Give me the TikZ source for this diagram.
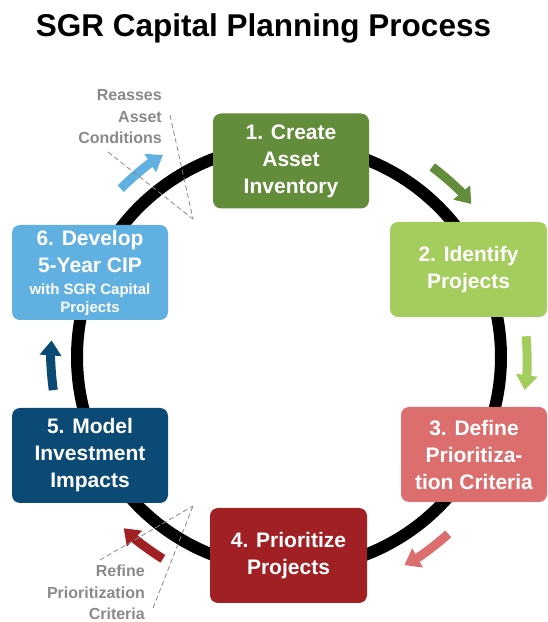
\documentclass[tikz,border=0pt]{standalone}
\usepackage{fontspec}
\setmainfont{Liberation Sans}
\usetikzlibrary{arrows.meta}
\definecolor{cOne}{HTML}{638C3B}
\definecolor{cTwo}{HTML}{A4CD5E}
\definecolor{cThree}{HTML}{DC6E6E}
\definecolor{cFour}{HTML}{A02023}
\definecolor{cFive}{HTML}{0C4A76}
\definecolor{cSix}{HTML}{60B0E2}
\definecolor{gGray}{HTML}{898989}
\begin{document}
\begin{tikzpicture}[x=1pt,y=1pt,
  box/.style={rounded corners=8pt, minimum height=95pt, inner sep=0pt, align=center, text=white, font=\bfseries\fontsize{21}{27}\selectfont},
  ring/.style={line width=12pt, black},
  flow/.style={line width=9pt, -{Triangle[length=15pt,width=21pt]}},
  guide/.style={draw=gGray, line width=0.8pt, dash pattern=on 5pt off 3pt},
  note/.style={text=gGray, font=\bfseries\fontsize{16}{21.5}\selectfont, align=right, inner sep=0pt, anchor=north east}]
\useasboundingbox (0,0) rectangle (547,622);
\node[font=\bfseries\fontsize{31.5}{36}\selectfont, anchor=base, inner sep=0pt] (title) at (263.5,585) {SGR Capital Planning Process};
\coordinate (C) at (289,265);
\draw[ring] (C) circle[radius=212];
% flow arrows
\draw[flow, cSix]   ([shift={(135:238)}]C) arc[start angle=135, end angle=122, radius=238];
\draw[flow, cOne]   ([shift={(53:238)}]C) arc[start angle=53, end angle=40, radius=238];
\draw[flow, cTwo]   ([shift={(5:238)}]C) arc[start angle=5, end angle=-8, radius=238];
\draw[flow, cThree] ([shift={(-48:238)}]C) arc[start angle=-48, end angle=-61, radius=238];
\draw[flow, cFour]  ([shift={(238:238)}]C) arc[start angle=238, end angle=226, radius=238];
\draw[flow, cFive]  ([shift={(188:238)}]C) arc[start angle=188, end angle=176, radius=238];
% boxes
\node[box, fill=cOne, minimum width=156pt] (s1) at (291,461) {1. Create\\Asset\\Inventory};
\node[box, fill=cTwo, minimum width=157pt] (s2) at (468.5,352.5) {2. Identify\\Projects};
\node[box, fill=cThree, minimum width=146pt] (s3) at (474,167.5) {3. Define\\Prioritiza-\\tion Criteria};
\node[box, fill=cFour, minimum width=157pt] (s4) at (288.5,66.5) {4. Prioritize\\Projects};
\node[box, fill=cFive, minimum width=156pt] (s5) at (90,166.5) {5. Model\\Investment\\Impacts};
\node[box, fill=cSix, minimum width=156pt] (s6) at (90,349.5) {6. Develop\\5-Year CIP\\[-5pt]\fontsize{15}{17}\selectfont with SGR Capital\\[-9pt]\fontsize{15}{17}\selectfont Projects};
% annotations
\node[note] (reassess) at (162,532.5) {Reasses\\Asset\\Conditions};
\node[note] (refine) at (145,57) {Refine\\Prioritization\\Criteria};
\coordinate (ra) at (170,507);
\coordinate (rb) at (108,470);
\coordinate (rt) at (193,403);
\coordinate (fa) at (100,62);
\coordinate (fb) at (153,14);
\coordinate (ft) at (193,116);
\draw[guide] (ra) -- (rt);
\draw[guide] (rb) -- (rt);
\draw[guide] (fa) -- (ft);
\draw[guide] (fb) -- (ft);
\end{tikzpicture}
\end{document}
